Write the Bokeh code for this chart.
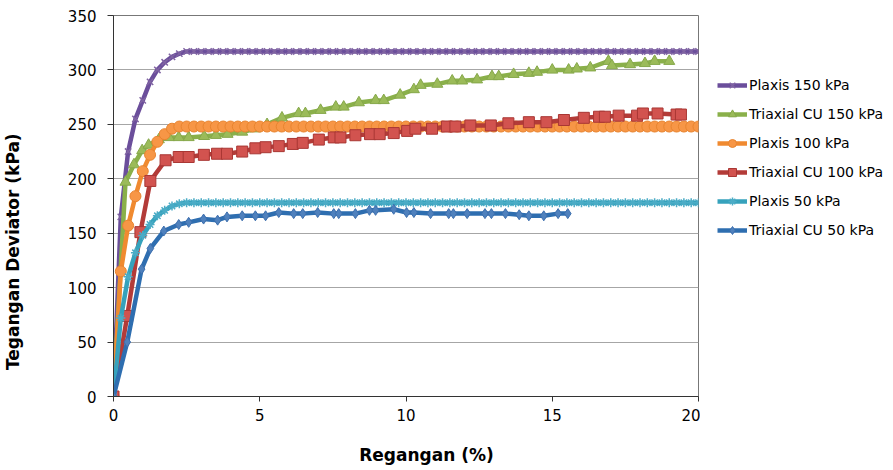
from bokeh.plotting import figure
from bokeh.layouts import row
from bokeh.models import (Range1d, SingleIntervalTicker, FixedTicker, Legend, LegendItem,
                          LinearAxis)
from bokeh.embed import file_html
from bokeh.resources import INLINE

# ---------------- data ----------------
plaxis_x = [0, 0.25, 0.5, 0.75, 1, 1.25, 1.5, 1.75, 2, 2.25,
            2.5, 2.75, 3, 3.25, 3.5, 3.75, 4, 4.25, 4.5, 4.75,
            5, 5.25, 5.5, 5.75, 6, 6.25, 6.5, 6.75, 7, 7.25,
            7.5, 7.75, 8, 8.25, 8.5, 8.75, 9, 9.25, 9.5, 9.75,
            10, 10.25, 10.5, 10.75, 11, 11.25, 11.5, 11.75, 12, 12.25,
            12.5, 12.75, 13, 13.25, 13.5, 13.75, 14, 14.25, 14.5, 14.75,
            15, 15.25, 15.5, 15.75, 16, 16.25, 16.5, 16.75, 17, 17.25,
            17.5, 17.75, 18, 18.25, 18.5, 18.75, 19, 19.25, 19.5, 19.75,
            20]

plaxis150_y = [0, 165, 225, 255, 272, 289, 300, 307, 312, 315,
               317, 317, 317, 317, 317, 317, 317, 317, 317, 317,
               317, 317, 317, 317, 317, 317, 317, 317, 317, 317,
               317, 317, 317, 317, 317, 317, 317, 317, 317, 317,
               317, 317, 317, 317, 317, 317, 317, 317, 317, 317,
               317, 317, 317, 317, 317, 317, 317, 317, 317, 317,
               317, 317, 317, 317, 317, 317, 317, 317, 317, 317,
               317, 317, 317, 317, 317, 317, 317, 317, 317, 317,
               317]

plaxis100_y = [0, 115, 157, 184, 207, 222, 234, 241, 246, 248,
               248, 248, 248, 248, 248, 248, 248, 248, 248, 248,
               248, 248, 248, 248, 248, 248, 248, 248, 248, 248,
               248, 248, 248, 248, 248, 248, 248, 248, 248, 248,
               248, 248, 248, 248, 248, 248, 248, 248, 248, 248,
               248, 248, 248, 248, 248, 248, 248, 248, 248, 248,
               248, 248, 248, 248, 248, 248, 248, 248, 248, 248,
               248, 248, 248, 248, 248, 248, 248, 248, 248, 248,
               248]

plaxis50_y = [0, 72, 110, 132, 148, 158, 166, 171, 175, 177,
              178, 178, 178, 178, 178, 178, 178, 178, 178, 178,
              178, 178, 178, 178, 178, 178, 178, 178, 178, 178,
              178, 178, 178, 178, 178, 178, 178, 178, 178, 178,
              178, 178, 178, 178, 178, 178, 178, 178, 178, 178,
              178, 178, 178, 178, 178, 178, 178, 178, 178, 178,
              178, 178, 178, 178, 178, 178, 178, 178, 178, 178,
              178, 178, 178, 178, 178, 178, 178, 178, 178, 178,
              178]

tri150_x = [0, 0.41, 0.7, 0.98, 1.2, 1.55, 1.9, 2.23, 2.57, 3.1,
            3.5, 3.9, 4.4, 4.85, 5.25, 5.76, 6.33, 6.56, 7.08, 7.6,
            7.87, 8.39, 8.96, 9.24, 9.8, 10.27, 10.5, 11.07, 11.58, 11.92,
            12.43, 12.94, 13.17, 13.68, 14.2, 14.48, 15.0, 15.56, 15.84, 16.3,
            16.92, 17.04, 17.66, 18.17, 18.5, 19.0]
tri150_y = [0, 197, 213, 226, 231, 236, 238, 238, 238, 239,
            240, 241, 243, 246, 250, 256, 260, 260, 263, 266,
            266, 270, 272, 272, 277, 282, 286, 287, 290, 290,
            291, 294, 294, 296, 297, 298, 300, 300, 301, 302,
            308, 304, 305, 306, 308, 308]

tri100_x = [0, 0.47, 0.92, 1.26, 1.78, 2.23, 2.57, 3.09, 3.54, 3.88,
            4.4, 4.85, 5.2, 5.65, 6.13, 6.47, 7.02, 7.53, 7.76, 8.27,
            8.77, 9.1, 9.58, 10.04, 10.32, 10.89, 11.4, 11.69, 12.2, 12.9,
            13.5, 14.2, 14.8, 15.4, 16.08, 16.6, 16.8, 17.27, 17.9, 18.1,
            18.6, 19.25, 19.4]
tri100_y = [0, 74, 151, 198, 217, 220, 220, 222, 223, 223,
            225, 228, 229, 230, 232, 233, 236, 238, 238, 240,
            241, 241, 242, 244, 246, 246, 248, 248, 249, 249,
            251, 252, 252, 254, 256, 257, 257, 258, 258, 260,
            260, 259, 259]

tri50_x = [0, 0.47, 0.96, 1.26, 1.72, 2.23, 2.57, 3.08, 3.56, 3.88,
           4.4, 4.85, 5.2, 5.65, 6.16, 6.47, 6.98, 7.53, 7.7, 8.27,
           8.75, 8.96, 9.58, 10.02, 10.27, 10.84, 11.46, 11.62, 12.09, 12.7,
           12.92, 13.4, 13.87, 14.2, 14.71, 15.2, 15.53]
tri50_y = [0, 50, 117, 136, 152, 158, 160, 163, 162, 165,
           166, 166, 166, 169, 168, 168, 169, 168, 168, 168,
           171, 171, 172, 169, 169, 168, 168, 168, 168, 168,
           168, 168, 167, 166, 166, 168, 168]

series_labels = ["Plaxis 150 kPa", "Triaxial CU 150 kPa", "Plaxis 100 kPa",
                 "Triaxial CU 100 kPa", "Plaxis 50 kPa", "Triaxial CU 50 kPa"]
x_title = "Regangan (%)"
y_title = "Tegangan Deviator (kPa)"

# ---------------- main figure ----------------
p = figure(width=700, height=470, x_range=Range1d(0, 20), y_range=Range1d(0, 350),
           output_backend="svg", toolbar_location=None,
           min_border_left=113, min_border_right=2, min_border_top=15, min_border_bottom=74)
p.background_fill_color = "white"
p.border_fill_color = "white"
p.outline_line_color = "#777777"
p.outline_line_width = 1

p.xgrid.grid_line_color = None
p.ygrid.grid_line_color = "#A6A6A6"
p.ygrid.grid_line_width = 1

p.xaxis.ticker = SingleIntervalTicker(interval=5, num_minor_ticks=0)
p.yaxis.ticker = SingleIntervalTicker(interval=50, num_minor_ticks=0)
for ax in (p.xaxis, p.yaxis):
    ax.axis_line_color = "#333333"
    ax.major_tick_line_color = "#333333"
    ax.major_tick_in = 0
    ax.minor_tick_line_color = None
    ax.major_label_text_font = "DejaVu Sans"
    ax.major_label_text_font_size = "15px"
    ax.major_label_text_color = "black"
p.xaxis.major_tick_out = 5
p.xaxis.major_label_standoff = 7
p.yaxis.major_tick_out = 6
p.yaxis.major_label_standoff = 11

# axis titles: extra label-only axes so they sit where the reference puts them
x_title_pos = 10.7
y_title_pos = 133
xt_axis = LinearAxis(ticker=FixedTicker(ticks=[x_title_pos]),
                     major_label_overrides={x_title_pos: x_title})
yt_axis = LinearAxis(ticker=FixedTicker(ticks=[y_title_pos]),
                     major_label_overrides={y_title_pos: y_title},
                     major_label_orientation="vertical")
for ax, so in ((xt_axis, 21), (yt_axis, 41)):
    ax.axis_line_color = None
    ax.major_tick_line_color = None
    ax.minor_tick_line_color = None
    ax.major_tick_in = 0
    ax.major_tick_out = 0
    ax.major_label_standoff = so
    ax.major_label_text_font = "DejaVu Sans"
    ax.major_label_text_font_style = "bold"
    ax.major_label_text_font_size = "17px"
    ax.major_label_text_color = "black"
p.add_layout(xt_axis, "below")
p.add_layout(yt_axis, "left")

styles = [
    # (x, y, line color, marker, size, fill, marker line, marker line width)
    (plaxis_x, plaxis150_y, "#6B4E9B", "x", 9, "#8064A2", "#8064A2", 1.5),
    (tri150_x, tri150_y, "#8AB04A", "triangle", 11, "#9BBB59", "#86A84A", 1),
    (plaxis_x, plaxis100_y, "#F08A30", "circle", 11, "#F79646", "#E8842F", 1),
    (tri100_x, tri100_y, "#B33B38", "square", 11, "#D2534F", "#A93734", 1),
    (plaxis_x, plaxis50_y, "#36A2BC", "asterisk", 9, "#4BACC6", "#4BACC6", 1.5),
    (tri50_x, tri50_y, "#2E6EB0", "diamond", 10, "#4F81BD", "#3D6FAE", 1),
]

# ---------------- legend panel (separate canvas to the right) ----------------
# its ranges lie far from the data, so only the legend keys show
q = figure(width=193, height=470, x_range=Range1d(1000, 1001), y_range=Range1d(1000, 1001),
           output_backend="svg", toolbar_location=None,
           x_axis_location=None, y_axis_location=None,
           min_border_left=0, min_border_right=0, min_border_top=15, min_border_bottom=74)
q.grid.visible = False
q.outline_line_color = None
q.background_fill_color = "white"
q.border_fill_color = "white"

items = []
for (xs, ys, lc, mk, sz, fc, mlc, mlw), lab in zip(styles, series_labels):
    p.line(xs, ys, line_color=lc, line_width=4.5)
    p.scatter(xs, ys, marker=mk, size=sz, fill_color=fc, line_color=mlc, line_width=mlw)
    kl = q.line(xs, ys, line_color=lc, line_width=4.5)
    ks = q.scatter(xs, ys, marker=mk, size=sz, fill_color=fc, line_color=mlc, line_width=mlw)
    items.append(LegendItem(label=lab, renderers=[kl, ks]))

legend = Legend(items=items, location=(17, 156), orientation="vertical",
                label_text_font="DejaVu Sans", label_text_font_size="14px",
                label_text_color="black",
                glyph_width=30, glyph_height=20, label_height=20, spacing=9,
                padding=0, margin=0, label_standoff=2,
                border_line_color=None, background_fill_alpha=0)
q.add_layout(legend)

layout = row(p, q, spacing=0)
open("out.html", "w").write(file_html(layout, INLINE))
